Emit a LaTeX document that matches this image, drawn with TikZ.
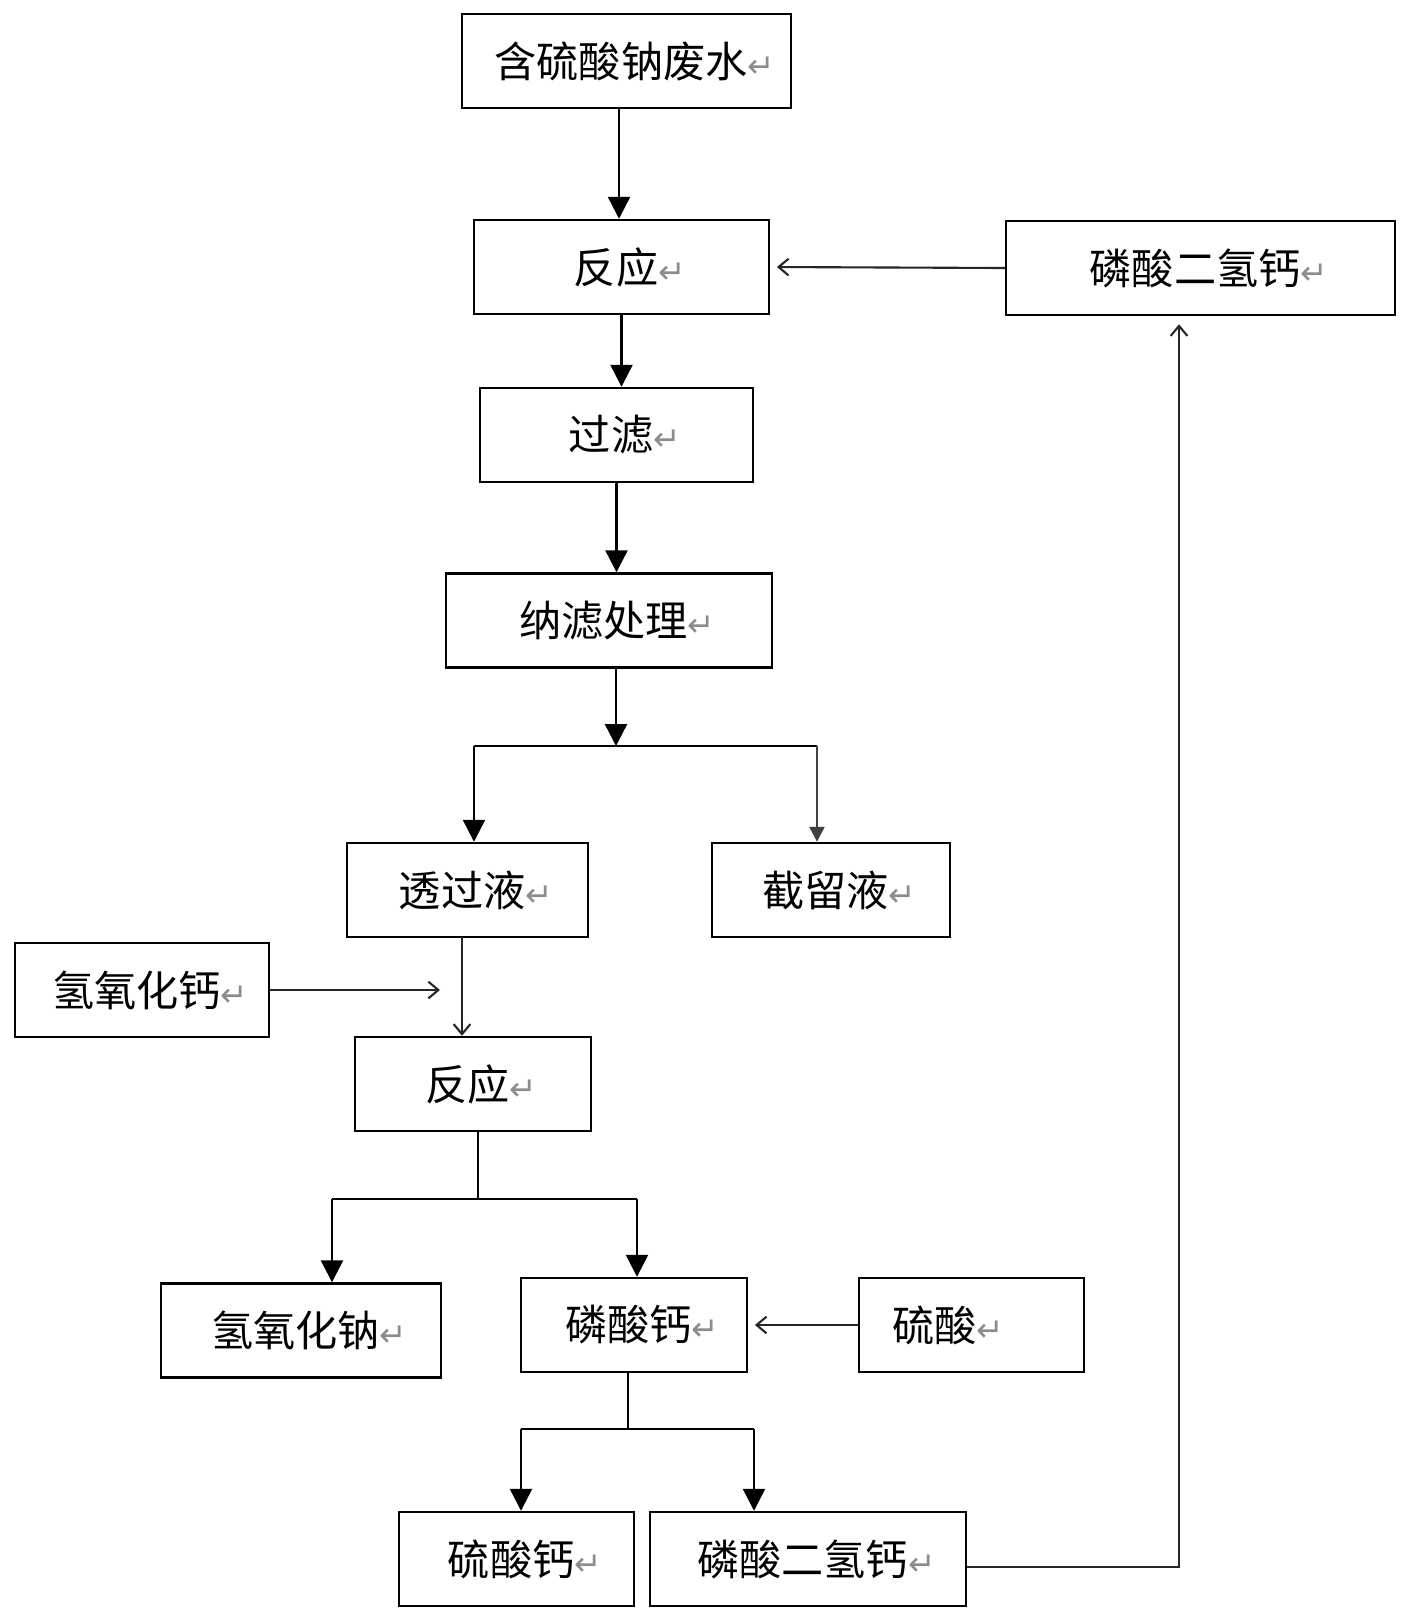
\documentclass[tikz,border=0pt]{standalone}
\usepackage{fontspec}
\setmainfont{Noto Sans CJK SC}
\newfontfamily\markfont{DejaVu Sans}
\usetikzlibrary{arrows.meta}
\newcommand{\pmark}{{\markfont\fontsize{28}{28}\selectfont\color{black!45}↵}}

\begin{document}
\begin{tikzpicture}[x=0.03cm,y=-0.03cm,
  box/.style={draw,line width=2.1pt,minimum height=2.82cm,inner sep=0pt,font=\fontsize{36}{40}\selectfont,execute at begin node=\hspace*{0.5cm}},
  bigarr/.style={line width=2.1pt,-{Triangle[length=0.66cm,width=0.66cm]}},
  thinarr/.style={line width=1.8pt,black!85,-{Straight Barb[length=0.3cm,width=0.5cm]}}]
\useasboundingbox (0,0) rectangle (1410,1622);
\node[box,minimum width=9.87cm] (N0) at (626.5,61) {含硫酸钠废水\pmark};
\node[box,minimum width=8.85cm] (N1) at (621.5,267) {反应\pmark};
\node[box,minimum width=11.67cm] (N2) at (1200.5,268) {磷酸二氢钙\pmark};
\node[box,minimum width=8.19cm] (N3) at (616.5,435) {过滤\pmark};
\node[box,minimum width=9.78cm] (N4) at (609,620.5) {纳滤处理\pmark};
\node[box,minimum width=7.23cm] (N5) at (467.5,890) {透过液\pmark};
\node[box,minimum width=7.14cm] (N6) at (831,890) {截留液\pmark};
\node[box,minimum width=7.62cm] (N7) at (142,990) {氢氧化钙\pmark};
\node[box,minimum width=7.08cm] (N8) at (473,1084) {反应\pmark};
\node[box,minimum width=8.4cm] (N9) at (301,1330.5) {氢氧化钠\pmark};
\node[box,minimum width=6.78cm] (N10) at (634,1325) {磷酸钙\pmark};
\node[box,minimum width=6.75cm] (N11) at (971.5,1325) {硫酸\pmark\hspace*{1.9cm}};
\node[box,minimum width=7.05cm] (N12) at (516.5,1559) {硫酸钙\pmark};
\node[box,minimum width=9.48cm] (N13) at (808,1559) {磷酸二氢钙\pmark};
% branch points
\coordinate (A0) at (619,108);
\coordinate (A1) at (462,937);
\coordinate (S1) at (616,746);
\coordinate (B1) at (474,746);
\coordinate (B2) at (817,746);
\coordinate (S2) at (478,1199);
\coordinate (B3) at (332,1199);
\coordinate (B4) at (637,1199);
\coordinate (S3) at (628,1429);
\coordinate (B5) at (521,1429);
\coordinate (B6) at (754,1429);
\coordinate (J1) at (440,990);
\coordinate (L1) at (1179,1567);
\draw[bigarr] (A0) -- (A0 |- N1.north);
\draw[bigarr] (N1.south) -- (N1.south |- N3.north);
\draw[bigarr] (N3.south) -- (N3.south |- N4.north);
\draw[bigarr] (N4.south -| S1) -- (S1);
\draw[line width=2.1pt] (B1) -- (B2);
\draw[bigarr] (B1) -- (B1 |- N5.north);
\draw[line width=2.1pt,black!75,-{Triangle[length=0.45cm,width=0.45cm]}] (B2) -- (B2 |- N6.north);
\draw[thinarr,shorten >=0.2cm] (N2.west) -- (N1.east);
\draw[thinarr] (N7.east) -- (J1);
\draw[thinarr] (A1) -- (A1 |- N8.north);
\draw[line width=2.1pt] (N8.south -| S2) -- (S2);
\draw[line width=2.1pt] (B3) -- (B4);
\draw[bigarr] (B3) -- (B3 |- N9.north);
\draw[bigarr] (B4) -- (B4 |- N10.north);
\draw[thinarr,shorten >=0.2cm] (N11.west) -- (N10.east);
\draw[line width=2.1pt] (N10.south -| S3) -- (S3);
\draw[line width=2.1pt] (B5) -- (B6);
\draw[bigarr] (B5) -- (B5 |- N12.north);
\draw[bigarr] (B6) -- (B6 |- N13.north);
\draw[thinarr,shorten >=0.24cm] (N13.east |- L1) -- (L1) -- (L1 |- N2.south);
\end{tikzpicture}
\end{document}
